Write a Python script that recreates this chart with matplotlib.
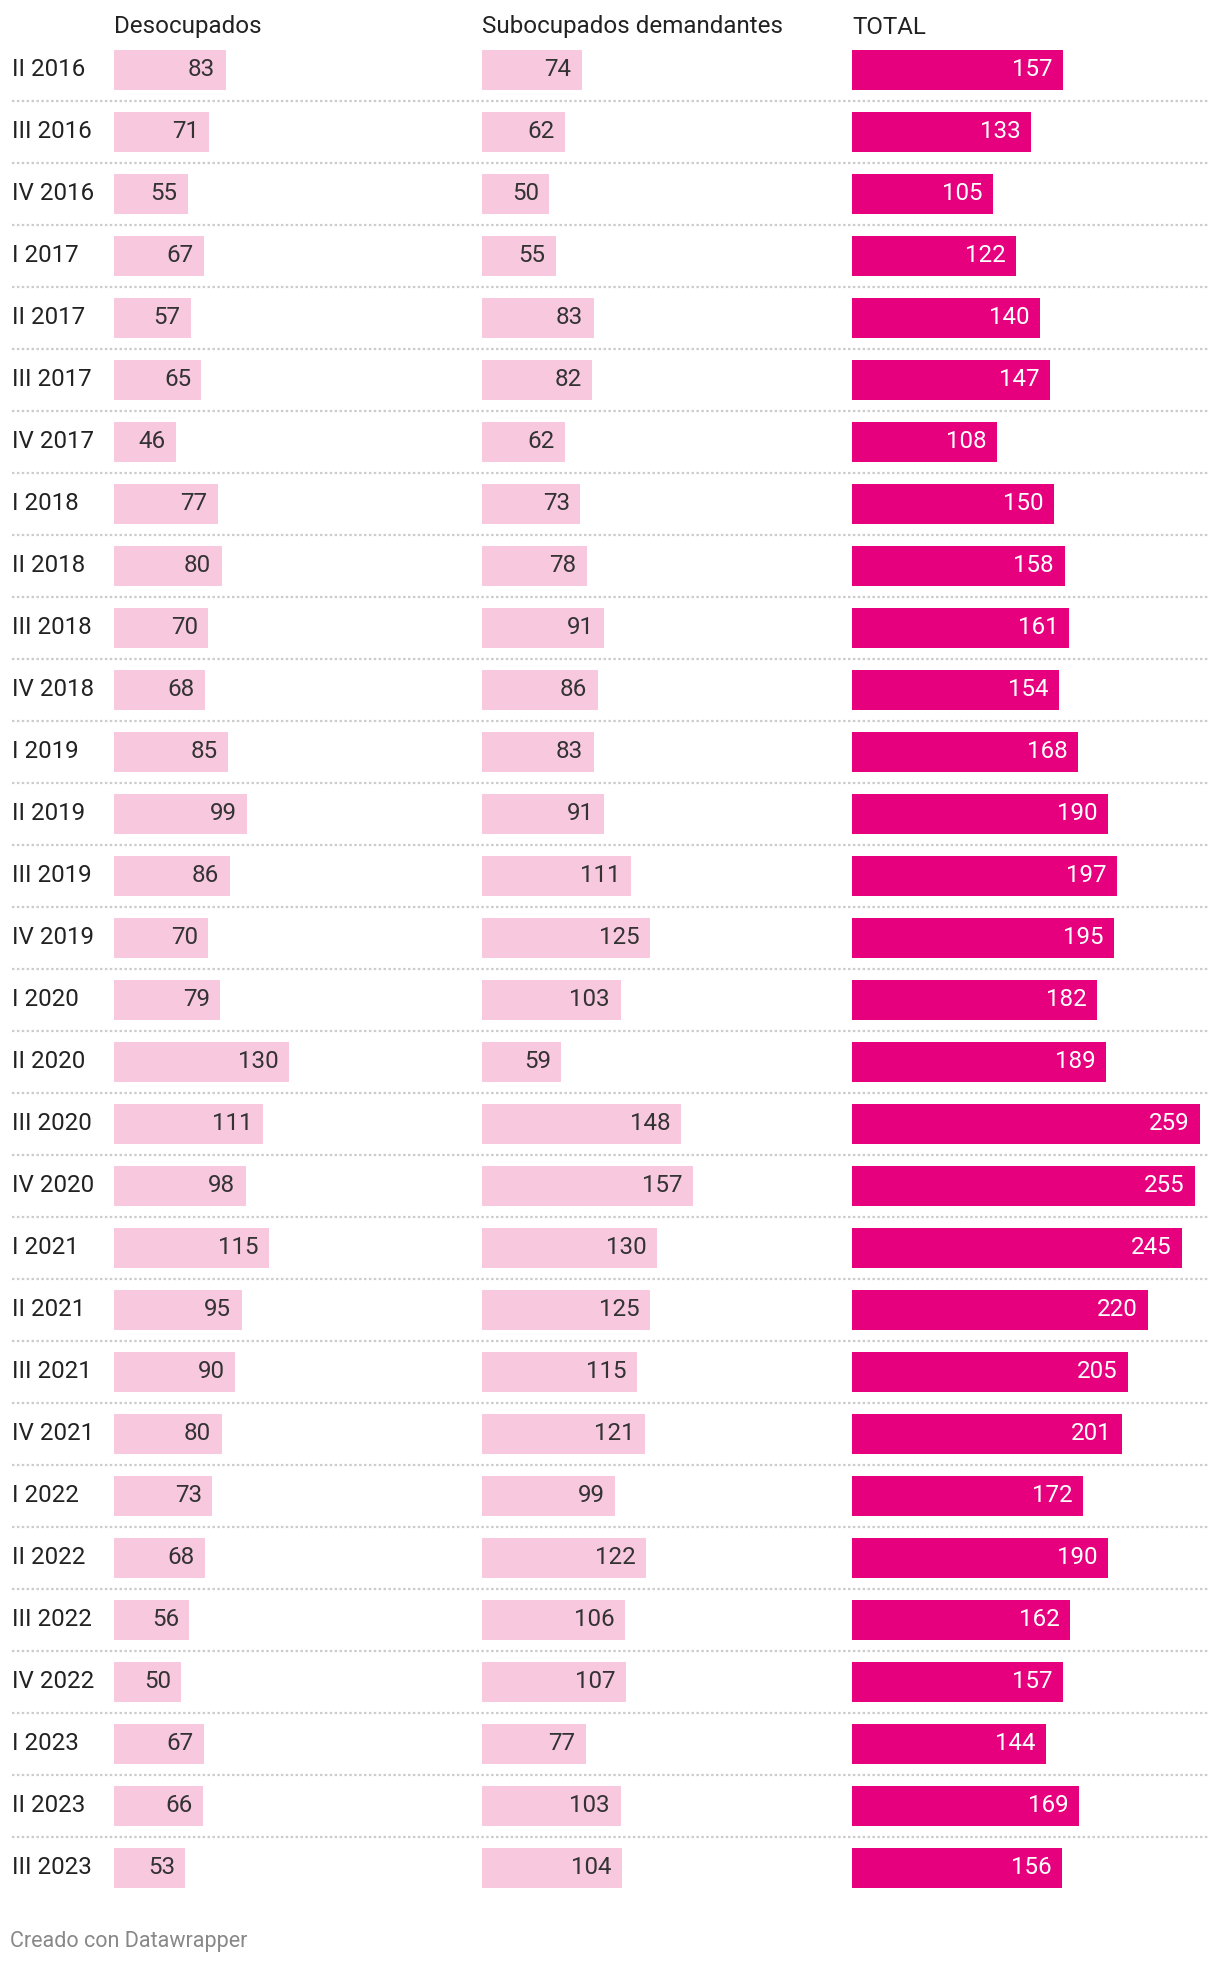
import matplotlib
matplotlib.use("Agg")
import matplotlib.pyplot as plt
from matplotlib.transforms import blended_transform_factory

plt.rcParams['font.family'] = ['Roboto', 'DejaVu Sans']

periods = ["II 2016", "III 2016", "IV 2016", "I 2017", "II 2017", "III 2017", "IV 2017",
           "I 2018", "II 2018", "III 2018", "IV 2018", "I 2019", "II 2019", "III 2019",
           "IV 2019", "I 2020", "II 2020", "III 2020", "IV 2020", "I 2021", "II 2021",
           "III 2021", "IV 2021", "I 2022", "II 2022", "III 2022", "IV 2022", "I 2023",
           "II 2023", "III 2023"]
desocupados = [83, 71, 55, 67, 57, 65, 46, 77, 80, 70, 68, 85, 99, 86, 70, 79, 130, 111,
               98, 115, 95, 90, 80, 73, 68, 56, 50, 67, 66, 53]
subocupados = [74, 62, 50, 55, 83, 82, 62, 73, 78, 91, 86, 83, 91, 111, 125, 103, 59, 148,
               157, 130, 125, 115, 121, 99, 122, 106, 107, 77, 103, 104]
total = [157, 133, 105, 122, 140, 147, 108, 150, 158, 161, 154, 168, 190, 197, 195, 182,
         189, 259, 255, 245, 220, 205, 201, 172, 190, 162, 157, 144, 169, 156]
headers = ["Desocupados", "Subocupados demandantes", "TOTAL"]
footer = "Creado con Datawrapper"

W, H = 1220, 1962
fig = plt.figure(figsize=(W / 100, H / 100), dpi=100)
fig.patch.set_facecolor("white")

n = len(periods)
row_h = 62.0
first_center = 69.6
top_px = first_center - row_h / 2
bot_px = top_px + row_h * n
col_x = [114, 482, 852]
col_w = 356
px_per_unit = 1.345
xmax = col_w / px_per_unit

light = "#f8c8df"
strong = "#e6007e"
fs = 17.4
series = [desocupados, subocupados, total]
colors = [light, light, strong]
txt_colors = ["#333333", "#333333", "#ffffff"]

axes = []
for k in range(3):
    ax = fig.add_axes([col_x[k] / W, 1 - bot_px / H, col_w / W, (bot_px - top_px) / H])
    ax.set_xlim(0, xmax)
    ax.set_ylim(n - 0.5, -0.5)
    ax.axis("off")
    ys = list(range(n))
    ax.barh(ys, series[k], height=0.645, color=colors[k], linewidth=0)
    for i, v in enumerate(series[k]):
        ax.annotate(str(v), (v, i), xytext=(-7.5, 0), textcoords="offset points",
                    ha="right", va="center", fontsize=fs, color=txt_colors[k])
    fig.text(col_x[k] / W, 1 - 27 / H, headers[k], ha="left", va="center",
             fontsize=fs, color="#222222")
    axes.append(ax)

ax0 = axes[0]
tr = blended_transform_factory(fig.transFigure, ax0.transData)
for i, p in enumerate(periods):
    ax0.text(12.5 / W, i, p, transform=tr, ha="left", va="center", fontsize=fs,
             color="#222222", clip_on=False)
for i in range(n - 1):
    ax0.plot([12.5 / W, 1208 / W], [i + 0.5, i + 0.5], transform=tr, clip_on=False,
             color="#cccccc", linewidth=1.6, linestyle=(0, (1.1, 1.1)))

fig.text(10 / W, 1 - 1942 / H, footer, ha="left", va="center", fontsize=15.5,
         color="#888888")

fig.savefig("out.png", dpi=100, facecolor="white")
